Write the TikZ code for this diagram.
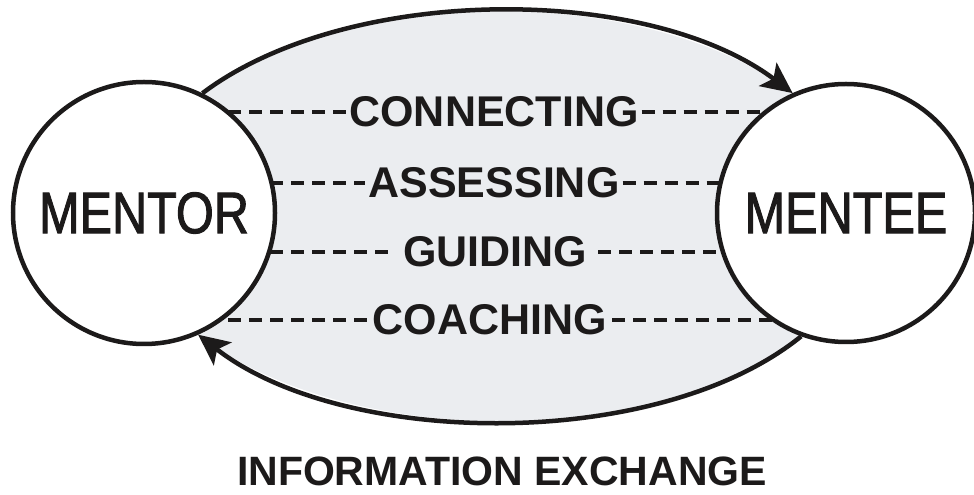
\documentclass[tikz,border=0pt]{standalone}
\usepackage{fontspec}
\newfontfamily\lsans{Liberation Sans}
\newfontfamily\lnarrow[FakeStretch=0.83,FakeBold=1.6]{Liberation Sans}
\usetikzlibrary{arrows.meta,backgrounds}
\definecolor{lens}{RGB}{235,237,240}
\definecolor{ink}{RGB}{28,26,26}
\begin{document}
\begin{tikzpicture}[x=1pt,y=1pt,
  party/.style={circle,draw=ink,line width=4.5pt,fill=white,inner sep=0pt,minimum size=262pt,
                text=ink,font=\lnarrow\fontsize{58.6}{60}\selectfont},
  flow/.style={draw=ink,line width=4.5pt,-{Stealth[length=31pt,width=29pt,inset=7pt]}},
  act/.style={text=ink,font=\lsans\bfseries\fontsize{43}{45}\selectfont,inner xsep=3pt,inner ysep=0pt},
  dashline/.style={draw=ink,line width=4.5pt,dash pattern=on 13pt off 8pt}]
\useasboundingbox (0,0) rectangle (974,495);
\node[party] (mentor) at (144,282) {MENTOR};
\node[party,minimum size=258pt] (mentee) at (846,282) {MENTEE};
\node[act] (conn) at (494,383) {CONNECTING};
\node[act] (assess) at (494,312) {ASSESSING};
\node[act,inner xsep=11pt] (guide) at (495,243) {GUIDING};
\node[act,inner xsep=5pt] (coach) at (490,175) {COACHING};
\node[text=ink,font=\lsans\bfseries\fontsize{41}{43}\selectfont,inner sep=0pt] (info) at (502,24) {INFORMATION EXCHANGE};
\begin{scope}[on background layer]
  \fill[lens] (mentor.64) to[out=37,in=143,looseness=0.79] (mentee.114)
     -- (mentee.-110) to[out=219,in=-38,looseness=0.78] (mentor.-66) -- cycle;
  \draw[dashline] (mentor.center |- conn) -- (conn.west);
  \draw[dashline] (conn.east) -- (mentee.center |- conn);
  \draw[dashline] (mentor.center |- assess) -- (assess.west);
  \draw[dashline] (assess.east) -- (mentee.center |- assess);
  \draw[dashline] (mentor.center |- guide) -- (guide.west);
  \draw[dashline] (guide.east) -- (mentee.center |- guide);
  \draw[dashline] (mentor.center |- coach) -- (coach.west);
  \draw[dashline] (coach.east) -- (mentee.center |- coach);
\end{scope}
\draw[flow] (mentor.64) to[out=37,in=143,looseness=0.79] (mentee.114);
\draw[flow] (mentee.-110) to[out=219,in=-38,looseness=0.78] (mentor.-66);
\end{tikzpicture}
\end{document}
